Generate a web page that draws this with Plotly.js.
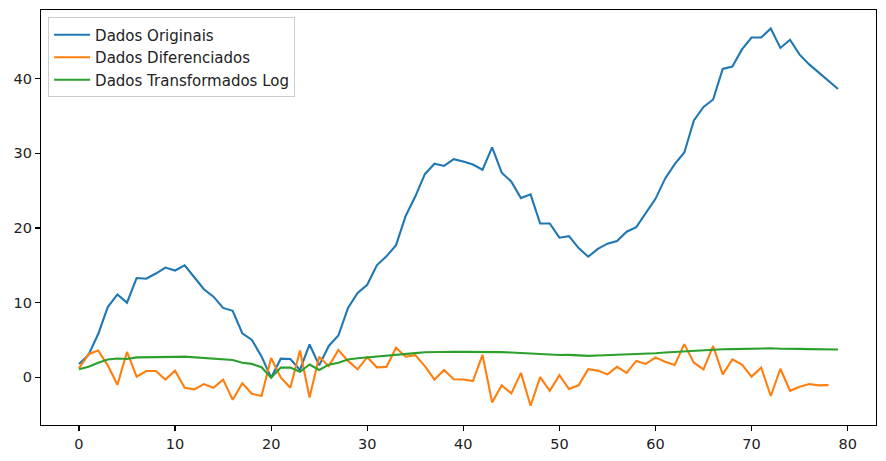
<!DOCTYPE html>
<html>
<head>
<meta charset="utf-8">
<script src="https://cdn.plot.ly/plotly-3.0.1.min.js"></script>
<style>html,body{margin:0;padding:0;background:#fff;}#chart{width:886px;height:461px;}</style>
</head>
<body>
<div id="chart"></div>
<script>
const seriesNames = ["Dados Originais", "Dados Diferenciados", "Dados Transformados Log"];
const seriesColors = ["#1f77b4", "#ff7f0e", "#2ca02c"];

const originais = [1.8, 3.0, 5.8, 9.4, 11.1, 10.0, 13.3, 13.2, 13.9, 14.7,
  14.3, 15.0, 13.4, 11.8, 10.8, 9.3, 8.9, 5.9, 5.0, 2.8,
  -0.05, 2.5, 2.45, 1.0, 4.4, 1.6, 4.2, 5.6, 9.3, 11.3,
  12.4, 15.0, 16.2, 17.7, 21.6, 24.2, 27.2, 28.6, 28.3, 29.2,
  28.9, 28.5, 27.8, 30.8, 27.4, 26.2, 24.0, 24.5, 20.6, 20.6,
  18.7, 18.9, 17.3, 16.15, 17.2, 17.9, 18.25, 19.5, 20.1, 21.95,
  23.9, 26.6, 28.55, 30.1, 34.4, 36.2, 37.2, 41.3, 41.6, 43.9,
  45.5, 45.5, 46.7, 44.1, 45.2, 43.2, 41.9, 40.8, 39.7, 38.6];

const diferenciados = [1.2, 3.1, 3.6, 1.6, -1.0, 3.4, 0.1, 0.85, 0.85, -0.3,
  0.9, -1.4, -1.6, -0.9, -1.4, -0.3, -3.0, -0.8, -2.2, -2.5,
  2.6, 0.0, -1.4, 3.6, -2.7, 2.75, 1.5, 3.65, 2.2, 1.07,
  2.7, 1.34, 1.4, 3.96, 2.76, 2.98, 1.5, -0.3, 0.98, -0.25,
  -0.28, -0.5, 3.0, -3.35, -1.07, -2.15, 0.6, -3.8, 0.04, -1.8,
  0.3, -1.57, -1.07, 1.1, 0.9, 0.4, 1.4, 0.6, 2.2, 1.8,
  2.67, 2.1, 1.65, 4.45, 1.96, 1.07, 4.2, 0.4, 2.4, 1.7,
  0.1, 1.3, -2.5, 1.15, -1.8, -1.25, -0.9, -1.07, -1.04];

const transformadosLog = [1.07, 1.42, 1.95, 2.4, 2.52, 2.45, 2.67, 2.67, 2.74, 2.76,
  2.74, 2.78, 2.67, 2.58, 2.46, 2.36, 2.32, 1.95, 1.8, 1.35,
  -0.05, 1.3, 1.3, 0.75, 1.72, 0.98, 1.7, 1.95, 2.38, 2.55,
  2.65, 2.8, 2.86, 2.94, 3.13, 3.24, 3.35, 3.4, 3.39, 3.42,
  3.41, 3.4, 3.38, 3.47, 3.37, 3.32, 3.24, 3.26, 3.1, 3.1,
  3.0, 3.01, 2.92, 2.87, 2.92, 2.96, 2.98, 3.05, 3.07, 3.15,
  3.22, 3.32, 3.4, 3.46, 3.58, 3.63, 3.66, 3.76, 3.78, 3.83,
  3.86, 3.86, 3.89, 3.83, 3.86, 3.81, 3.78, 3.76, 3.73, 3.72];

const xTicks = [0, 10, 20, 30, 40, 50, 60, 70, 80];
const yTicks = [0, 10, 20, 30, 40];

function idx(arr) { return arr.map((_, i) => i); }

const allSeries = [originais, diferenciados, transformadosLog];
const traces = allSeries.map((ys, k) => ({
  x: idx(ys),
  y: ys,
  type: "scatter",
  mode: "lines",
  name: seriesNames[k],
  line: {color: seriesColors[k], width: 2.1}
}));

const axisCommon = {
  showgrid: false,
  zeroline: false,
  showline: true,
  mirror: true,
  linecolor: "#000",
  linewidth: 1.1,
  ticks: "outside",
  ticklen: 5,
  tickwidth: 1.1,
  tickcolor: "#000",
  tickfont: {family: "DejaVu Sans", size: 14.5, color: "#222"}
};

const layout = {
  width: 886,
  height: 461,
  margin: {l: 41, r: 10, t: 10, b: 36},
  paper_bgcolor: "#fff",
  plot_bgcolor: "#fff",
  font: {family: "DejaVu Sans", size: 14.5, color: "#222"},
  showlegend: true,
  legend: {
    x: 0.0085, y: 0.982, xanchor: "left", yanchor: "top",
    bgcolor: "rgba(255,255,255,0.8)",
    bordercolor: "#cccccc", borderwidth: 1,
    font: {family: "DejaVu Sans", size: 15, color: "#222"},
    itemwidth: 36,
    tracegroupgap: 0
  },
  xaxis: Object.assign({}, axisCommon, {range: [-3.95, 82.95], tickvals: xTicks, ticktext: xTicks.map(String)}),
  yaxis: Object.assign({}, axisCommon, {range: [-6.38, 49.18], tickvals: yTicks, ticktext: yTicks.map(String)})
};

Plotly.newPlot("chart", traces, layout, {displayModeBar: false, staticPlot: true});
</script>
</body>
</html>
